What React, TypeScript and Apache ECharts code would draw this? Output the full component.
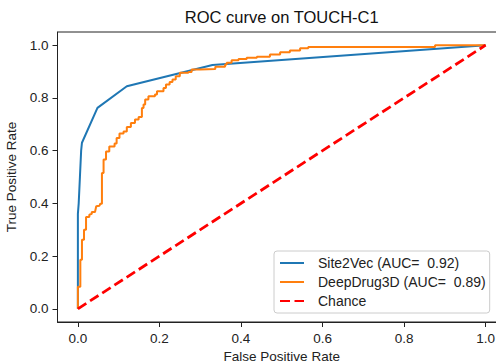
import React, { useEffect, useRef } from "react";
import * as echarts from "echarts";

const titleText = "ROC curve on TOUCH-C1";
const xLabel = "False Positive Rate";
const yLabel = "True Positive Rate";
const tickValues = [0, 0.2, 0.4, 0.6, 0.8, 1.0];

const site2vecName = "Site2Vec (AUC=  0.92)";
const site2vecFpr = [0, 0, 0.002, 0.005, 0.008, 0.01, 0.048, 0.12, 0.33, 1];
const site2vecTpr = [0, 0.36, 0.4, 0.5, 0.6, 0.63, 0.762, 0.844, 0.925, 1];

const deepDrugName = "DeepDrug3D (AUC=  0.89)";
const deepDrugFpr = [
  0, 0, 0.006, 0.006, 0.01, 0.01, 0.015, 0.015, 0.02, 0.02, 0.028, 0.028, 0.034, 0.034,
  0.042, 0.045, 0.053, 0.055, 0.059, 0.059, 0.063, 0.063, 0.069, 0.069, 0.077, 0.077,
  0.09, 0.09, 0.095, 0.095, 0.102, 0.102, 0.112, 0.112, 0.12, 0.12, 0.13, 0.13, 0.14,
  0.14, 0.149, 0.149, 0.157, 0.157, 0.161, 0.161, 0.165, 0.165, 0.173, 0.173, 0.189,
  0.189, 0.194, 0.194, 0.21, 0.21, 0.216, 0.216, 0.22, 0.225, 0.225, 0.232, 0.232, 0.24,
  0.24, 0.25, 0.25, 0.271, 0.271, 0.279, 0.279, 0.3, 0.3, 0.337, 0.337, 0.361, 0.361,
  0.365, 0.365, 0.377, 0.377, 0.394, 0.394, 0.414, 0.414, 0.439, 0.439, 0.471, 0.471,
  0.496, 0.496, 0.52, 0.52, 0.545, 0.545, 0.565, 0.565, 0.876, 0.876, 1,
];
const deepDrugTpr = [
  0, 0.084, 0.084, 0.186, 0.186, 0.262, 0.262, 0.3, 0.3, 0.348, 0.348, 0.357, 0.36, 0.367,
  0.367, 0.389, 0.391, 0.399, 0.399, 0.515, 0.515, 0.566, 0.566, 0.597, 0.597, 0.616,
  0.616, 0.627, 0.627, 0.648, 0.648, 0.665, 0.665, 0.673, 0.673, 0.69, 0.69, 0.705, 0.705,
  0.718, 0.718, 0.728, 0.728, 0.762, 0.762, 0.775, 0.775, 0.794, 0.794, 0.806, 0.806,
  0.813, 0.813, 0.825, 0.825, 0.838, 0.838, 0.851, 0.851, 0.851, 0.86, 0.86, 0.87, 0.87,
  0.882, 0.882, 0.895, 0.895, 0.898, 0.898, 0.908, 0.908, 0.91, 0.91, 0.918, 0.918, 0.927,
  0.927, 0.933, 0.933, 0.943, 0.943, 0.948, 0.948, 0.952, 0.952, 0.956, 0.956, 0.965,
  0.965, 0.973, 0.973, 0.98, 0.98, 0.988, 0.988, 0.993, 0.993, 1, 1,
];

const chanceName = "Chance";
const chanceX = [0, 1];
const chanceY = [0, 1];

const FONT = "Liberation Sans";

function pairs(xs: number[], ys: number[]) {
  return xs.map((x, i) => [x, ys[i]]);
}

export default function App() {
  const ref = useRef<HTMLDivElement>(null);
  useEffect(() => {
    if (!ref.current) return;
    const chart = echarts.init(ref.current, null, { renderer: "svg" });
    const axisCommon = {
      type: "value" as const,
      min: -0.05,
      max: 1.05,
      splitLine: { show: false },
      axisLine: { show: true, onZero: false, lineStyle: { color: "#222", width: 1 } },
      axisTick: {
        show: true,
        inside: false,
        length: 5,
        customValues: tickValues,
        lineStyle: { color: "#222", width: 1 },
      },
      axisLabel: {
        customValues: tickValues,
        formatter: (v: number) => v.toFixed(1),
        color: "#222",
        fontFamily: FONT,
        fontSize: 13.5,
        margin: 9,
      },
      nameLocation: "middle" as const,
      nameTextStyle: { color: "#222", fontFamily: FONT, fontSize: 13.5, lineHeight: 14 },
    };
    chart.setOption({
      animation: false,
      backgroundColor: "#fff",
      title: {
        text: titleText,
        left: 281.75,
        top: 8,
        textAlign: "center",
        padding: 0,
        textStyle: { color: "#111", fontFamily: FONT, fontSize: 16.5, fontWeight: "normal" },
      },
      grid: {
        left: 57.5,
        top: 32,
        width: 448.5,
        height: 290,
        show: true,
        borderColor: "#222",
        borderWidth: 1,
        containLabel: false,
        outerBoundsMode: "none",
      },
      xAxis: { ...axisCommon, name: xLabel, nameGap: 20 },
      yAxis: { ...axisCommon, name: yLabel, nameGap: 36 },
      legend: {
        orient: "vertical",
        left: 274,
        top: 251,
        padding: [5, 4, 5, 5],
        itemWidth: 24,
        itemHeight: 14,
        itemGap: 5,
        backgroundColor: "rgba(255,255,255,0.8)",
        borderColor: "#cccccc",
        borderWidth: 1,
        borderRadius: 3,
        itemStyle: { opacity: 0, borderWidth: 0 },
        textStyle: {
          color: "#222",
          fontFamily: FONT,
          fontSize: 14,
          lineHeight: 14,
          padding: [0, 0, 0, 9],
        },
        data: [site2vecName, deepDrugName, chanceName],
      },
      series: [
        {
          name: site2vecName,
          type: "line",
          data: pairs(site2vecFpr, site2vecTpr),
          symbol: "none",
          lineStyle: { color: "#1f77b4", width: 2 },
          itemStyle: { color: "#1f77b4" },
        },
        {
          name: deepDrugName,
          type: "line",
          data: pairs(deepDrugFpr, deepDrugTpr),
          symbol: "none",
          lineStyle: { color: "#ff7f0e", width: 2 },
          itemStyle: { color: "#ff7f0e" },
        },
        {
          name: chanceName,
          type: "line",
          data: pairs(chanceX, chanceY),
          symbol: "none",
          lineStyle: { color: "#ff0000", width: 2.8, type: [10, 4.5] },
          itemStyle: { color: "#ff0000" },
        },
      ],
    });
    return () => chart.dispose();
  }, []);
  return (
    <div
      ref={ref}
      style={{ position: "absolute", left: 0, top: 0, width: 496, height: 363 }}
    />
  );
}
